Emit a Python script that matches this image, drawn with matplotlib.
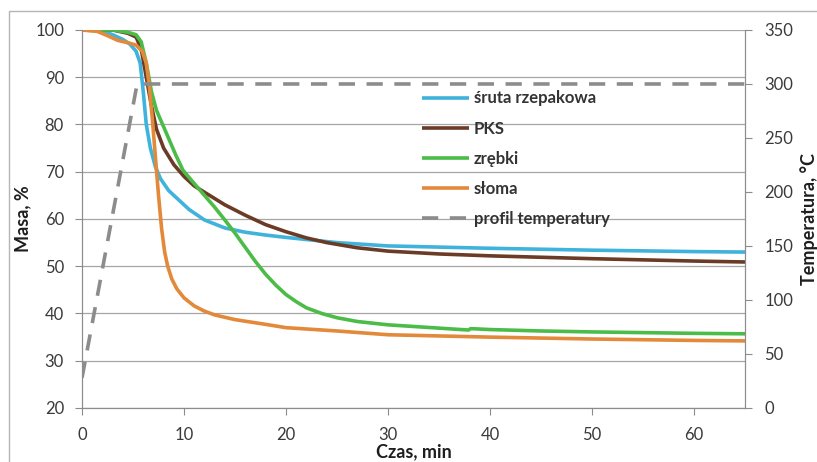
import matplotlib
matplotlib.use("Agg")
import matplotlib.pyplot as plt
from matplotlib.patches import Rectangle

plt.rcParams["font.family"] = ["Lato", "DejaVu Sans"]

# ── data ─────────────────────────────────────────────────────────────────────
t_sruta = [0, 2, 3, 4, 4.7, 5.3, 5.7, 6.0, 6.3, 6.7, 7.2, 7.7, 8.5, 9.5, 10.5,
           12, 14, 16, 18, 20, 25, 30, 40, 50, 60, 65]
m_sruta = [100, 99.8, 99, 98, 97, 95.5, 93, 87, 80, 75, 71, 68.5, 66, 64, 62,
           59.8, 58.1, 57.2, 56.6, 56.1, 55, 54.3, 53.8, 53.4, 53.1, 53.0]

t_pks = [0, 3, 4.5, 5.3, 5.8, 6.3, 6.8, 7.3, 8, 9, 10, 11, 12.5, 14, 16, 18,
         20, 22, 24, 27, 30, 35, 40, 50, 60, 65]
m_pks = [100, 100, 99.3, 98.5, 96, 90, 84, 79, 75, 71.5, 69, 67, 65, 63, 60.8,
         58.8, 57.3, 56, 55, 53.9, 53.2, 52.6, 52.2, 51.6, 51.1, 50.9]

t_zrebki = [0, 3, 4.5, 5.3, 5.8, 6.3, 6.8, 7.3, 7.9, 8.5, 9.2, 9.9, 11, 12, 13,
            14, 15, 16, 17, 18, 19, 20, 21, 22, 23.5, 25, 27, 30, 35, 37.9,
            38.1, 40, 45, 50, 60, 65]
m_zrebki = [100, 100, 99.5, 99, 97.5, 93, 87, 83, 80, 77, 73.5, 70.3, 67.5, 65,
            62.5, 59.8, 57, 54, 51, 48.3, 46, 44, 42.5, 41.2, 40, 39.1, 38.3,
            37.6, 36.9, 36.5, 36.8, 36.6, 36.3, 36.1, 35.8, 35.7]

t_sloma = [0, 1.5, 2.5, 3.5, 4.5, 5.3, 5.9, 6.3, 6.6, 6.9, 7.2, 7.5, 7.8, 8.1,
           8.4, 8.8, 9.3, 10, 11, 12, 13, 15, 18, 20, 25, 30, 40, 50, 60, 65]
m_sloma = [100, 99.7, 98.8, 97.8, 97.3, 96.8, 95.5, 93, 88, 81, 73, 65, 58, 53,
           50, 47.3, 45.2, 43.3, 41.6, 40.5, 39.7, 38.7, 37.7, 37.0, 36.3, 35.5,
           35.0, 34.6, 34.3, 34.2]

t_temp = [0, 5.4, 65]
temp = [28, 300, 300]

labels = ["śruta rzepakowa", "PKS", "zrębki", "słoma", "profil temperatury"]
colors = ["#3fb3dc", "#6b3b26", "#4cbc48", "#e3893a", "#8c8c8c"]

# ── figure ───────────────────────────────────────────────────────────────────
fig = plt.figure(figsize=(8.17, 4.62), dpi=100)
fig.patches.append(Rectangle((0.011, -0.2), 1.3, 1.176, transform=fig.transFigure,
                             fill=False, edgecolor="#b5b5b5", lw=1))
ax = fig.add_axes([0.1004, 0.1169, 0.8115, 0.8182])
ax2 = ax.twinx()

lines = []
for t, m, lab, c in zip([t_sruta, t_pks, t_zrebki, t_sloma],
                        [m_sruta, m_pks, m_zrebki, m_sloma], labels[:4], colors[:4]):
    ln, = ax.plot(t, m, color=c, lw=2.6, label=lab, solid_capstyle="butt")
    lines.append(ln)
lt, = ax2.plot(t_temp, temp, color=colors[4], lw=2.6, ls=(0, (4.5, 3.2)), label=labels[4])
lines.append(lt)

ax.set_xlim(0, 65)
ax.set_ylim(20, 100)
ax2.set_ylim(0, 350)
ax.set_xticks(range(0, 61, 10))
ax.set_yticks(range(20, 101, 10))
ax2.set_yticks(range(0, 351, 50))
ax.grid(axis="y", color="#a6a6a6", lw=0.9)
ax.set_axisbelow(True)

for a in (ax, ax2):
    a.spines["top"].set_visible(False)
    for s in ("left", "right", "bottom"):
        a.spines[s].set_color("#8c8c8c")
    a.tick_params(colors="#8c8c8c", labelcolor="#3a3a3a", labelsize=12, length=5)
ax.tick_params(axis="y", pad=8)
ax.tick_params(axis="x", pad=9)
ax2.tick_params(axis="y", pad=9)

ax.set_xlabel("Czas, min", fontsize=13, fontweight="bold", color="#1e1e1e", labelpad=0)
ax.set_ylabel("Masa, %", fontsize=13, fontweight="bold", color="#1e1e1e", labelpad=3)
ax2.set_ylabel("Temperatura, °C", fontsize=13, fontweight="bold", color="#1e1e1e", labelpad=5)

leg = ax.legend(handles=lines, loc="upper left", bbox_to_anchor=(0.49, 0.88),
                frameon=False, fontsize=12, handlelength=2.8, handletextpad=0.3,
                labelspacing=0.85)
for txt in leg.get_texts():
    txt.set_fontweight("bold")
    txt.set_color("#333333")

fig.savefig("out.png", dpi=100)
